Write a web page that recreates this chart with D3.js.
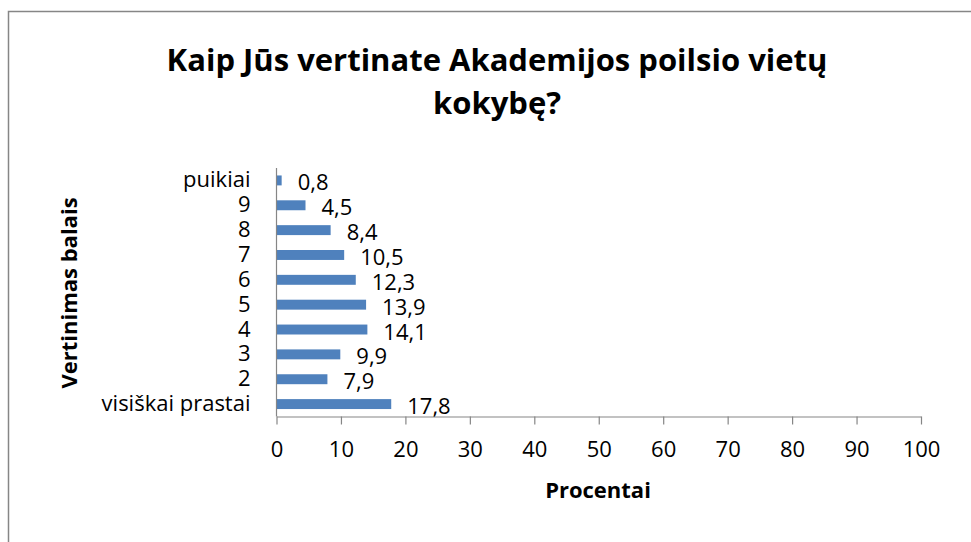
<!DOCTYPE html>
<html>
<head>
<meta charset="utf-8">
<script src="https://cdn.jsdelivr.net/npm/d3@7"></script>
<style>
  body { margin: 0; background: #fff; }
  svg text { font-family: "Open Sans", Lato, sans-serif; fill: #000; }
</style>
</head>
<body>
<svg id="chart" width="971" height="542"></svg>
<script>
// chart values, bottom category first
const categories = ["visiškai prastai", "2", "3", "4", "5", "6", "7", "8", "9", "puikiai"];
const values = [17.8, 7.9, 9.9, 14.1, 13.9, 12.3, 10.5, 8.4, 4.5, 0.8];
const xTicks = [0, 10, 20, 30, 40, 50, 60, 70, 80, 90, 100];
const titleLines = ["Kaip Jūs vertinate Akademijos poilsio vietų", "kokybę?"];
const xTitle = "Procentai";
const yTitle = "Vertinimas balais";

const FONT = "'Open Sans', Lato, sans-serif";
const svg = d3.select("#chart");

// outer frame (runs off the right and bottom edge)
svg.append("rect")
  .attr("x", 8.5).attr("y", 11.5)
  .attr("width", 1000).attr("height", 600)
  .attr("fill", "none")
  .attr("stroke", "#868686")
  .attr("stroke-width", 1.5);

const plot = { left: 276.5, right: 921, top: 168, bottom: 416.5 };

const x = d3.scaleLinear()
  .domain([0, 100])
  .range([plot.left, plot.right]);

const y = d3.scaleBand()
  .domain(categories)
  .range([plot.bottom, plot.top])
  .paddingInner(0.6)
  .paddingOuter(0.3);

// title
svg.append("text")
  .attr("text-anchor", "middle")
  .style("font-size", "31px")
  .style("font-weight", "bold")
  .selectAll("tspan")
  .data(titleLines)
  .join("tspan")
  .attr("x", 497)
  .attr("y", (d, i) => 71 + i * 43)
  .text((d) => d);

// bars
svg.append("g")
  .selectAll("rect")
  .data(values)
  .join("rect")
  .attr("x", x(0))
  .attr("y", (d, i) => y(categories[i]))
  .attr("width", (d) => x(d) - x(0))
  .attr("height", y.bandwidth())
  .attr("fill", "#4f81bd");

// data labels
svg.append("g")
  .selectAll("text")
  .data(values)
  .join("text")
  .attr("x", (d) => x(d) + 16)
  .attr("y", (d, i) => y(categories[i]) + y.bandwidth() / 2 + 10)
  .style("font-size", "22px")
  .text((d) => d.toFixed(1).replace(".", ","));

// x axis
const xAxis = svg.append("g")
  .attr("transform", `translate(0,${plot.bottom})`)
  .call(d3.axisBottom(x).tickValues(xTicks).tickSize(8).tickSizeOuter(0).tickPadding(17));
xAxis.select(".domain").attr("stroke", "#868686").attr("stroke-width", 1.2);
xAxis.selectAll(".tick line").attr("stroke", "#868686").attr("stroke-width", 1.2);
xAxis.selectAll(".tick text")
  .style("font-size", "22px")
  .style("font-family", FONT)
  .attr("fill", "#000");

// y axis
const yAxis = svg.append("g")
  .attr("transform", `translate(${plot.left},0)`)
  .call(d3.axisLeft(y).tickSize(0).tickPadding(26));
yAxis.select(".domain")
  .attr("d", `M0,${plot.top}V${plot.bottom}`)
  .attr("stroke", "#868686").attr("stroke-width", 1.2);
yAxis.selectAll(".tick text")
  .style("font-size", "22px")
  .style("font-family", FONT)
  .attr("fill", "#000");

// axis titles
svg.append("text")
  .attr("x", 598).attr("y", 498)
  .attr("text-anchor", "middle")
  .style("font-size", "22px")
  .style("font-weight", "bold")
  .text(xTitle);

svg.append("text")
  .attr("transform", "translate(77,293) rotate(-90)")
  .attr("text-anchor", "middle")
  .style("font-size", "22px")
  .style("font-weight", "bold")
  .text(yTitle);
</script>
</body>
</html>
